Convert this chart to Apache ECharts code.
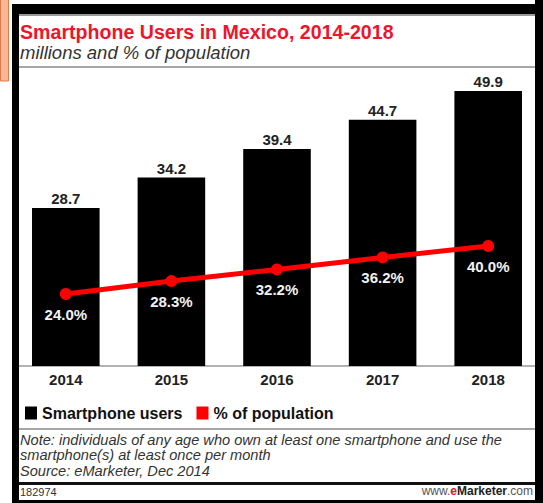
<!DOCTYPE html>
<html>
<head>
<meta charset="utf-8">
<script src="https://cdn.jsdelivr.net/npm/echarts@6/dist/echarts.min.js"></script>
<style>
html,body{margin:0;padding:0;background:#fff;}
#c{width:543px;height:503px;}
</style>
</head>
<body>
<div id="c"></div>
<script>
const years = ['2014', '2015', '2016', '2017', '2018'];
const users = [28.7, 34.2, 39.4, 44.7, 49.9];
const share = [24.0, 28.3, 32.2, 36.2, 40.0];
const titleText = 'Smartphone Users in Mexico, 2014-2018';
const subtitleText = 'millions and % of population';
const noteLines = [
  'Note: individuals of any age who own at least one smartphone and use the',
  'smartphone(s) at least once per month',
  'Source: eMarketer, Dec 2014'
];
const chartId = '182974';

const FONT = 'Liberation Sans, Arial, sans-serif';
const chart = echarts.init(document.getElementById('c'), null, {renderer: 'svg'});

const graphics = [
  {type: 'rect', shape: {x: 0.5, y: -1, width: 8, height: 82}, style: {fill: '#f8b898', stroke: '#e07a48', lineWidth: 1}, z: 100},
  {type: 'rect', shape: {x: 12, y: 4, width: 531, height: 10}, style: {fill: '#000'}, z: 100},
  {type: 'rect', shape: {x: 12, y: 4, width: 7, height: 499}, style: {fill: '#000'}, z: 100},
  {type: 'rect', shape: {x: 535, y: 0, width: 8, height: 503}, style: {fill: '#000'}, z: 100},
  {type: 'rect', shape: {x: 12, y: 500, width: 531, height: 3}, style: {fill: '#000'}, z: 100},
  {type: 'line', shape: {x1: 19, y1: 15, x2: 535, y2: 15}, style: {stroke: '#999', lineWidth: 2}, z: 100},
  {type: 'line', shape: {x1: 19, y1: 67, x2: 535, y2: 67}, style: {stroke: '#888', lineWidth: 1.5}, z: 100},
  {type: 'line', shape: {x1: 19, y1: 429, x2: 535, y2: 429}, style: {stroke: '#888', lineWidth: 1.5}, z: 100},
  {type: 'rect', shape: {x: 19, y: 482, width: 516, height: 3}, style: {fill: '#111'}, z: 100},
  {type: 'text', left: 20, top: 22, z: 100, style: {text: titleText, fill: '#f0142a', font: 'bold 19.6px ' + FONT}},
  {type: 'text', left: 20, top: 43, z: 100, style: {text: subtitleText, fill: '#333', font: 'italic 18.5px ' + FONT}},
  {type: 'text', left: 20, top: 432, z: 100, style: {text: noteLines.join('\n'), fill: '#333', font: 'italic 14.6px ' + FONT, lineHeight: 15.5}},
  {type: 'text', left: 20, top: 486, z: 100, style: {text: chartId, fill: '#333', font: '11px ' + FONT}},
  {type: 'text', right: 10, top: 485, z: 100, style: {
    text: '{g|www.}{r|e}{b|Marketer}{g|.com}',
    rich: {
      g: {fill: '#555', font: '12px ' + FONT},
      r: {fill: '#e8102a', font: 'bold 12px ' + FONT},
      b: {fill: '#222', font: 'bold 12px ' + FONT}
    }
  }}
];

chart.setOption({
  animation: false,
  backgroundColor: '#fff',
  grid: {left: 13, right: 2, top: 63, bottom: 137, containLabel: false},
  legend: {
    left: 20, top: 400, itemWidth: 12, itemHeight: 13, itemGap: 14,
    textStyle: {color: '#111', fontSize: 16, fontWeight: 'bold', fontFamily: FONT},
    data: [
      {name: 'Smartphone users', icon: 'rect', itemStyle: {color: '#000'}},
      {name: '% of population', icon: 'rect', itemStyle: {color: '#ff0000'}}
    ]
  },
  xAxis: {
    type: 'category', data: years,
    axisLine: {lineStyle: {color: '#999', width: 1.5}},
    axisTick: {show: false},
    axisLabel: {color: '#222', fontSize: 15, fontWeight: 'bold', fontFamily: FONT, margin: 6}
  },
  yAxis: [
    {type: 'value', min: 0, max: 55, show: false, splitLine: {show: false}},
    {type: 'value', min: 0, max: 101, show: false, splitLine: {show: false}}
  ],
  series: [
    {
      name: 'Smartphone users', type: 'bar', data: users, barWidth: '64%',
      itemStyle: {color: '#000'},
      label: {show: true, position: 'top', distance: 2, color: '#222', fontSize: 15, fontWeight: 'bold', fontFamily: FONT,
        formatter: p => p.value.toFixed(1)}
    },
    {
      name: '% of population', type: 'line', yAxisIndex: 1, data: share,
      lineStyle: {color: '#ff0000', width: 5},
      itemStyle: {color: '#ff0000'},
      symbol: 'circle', symbolSize: 12, z: 5,
      label: {show: true, position: 'bottom', distance: 7, color: '#f2f2f2', fontSize: 15, fontWeight: 'bold', fontFamily: FONT,
        formatter: p => p.value.toFixed(1) + '%'}
    }
  ],
  graphic: graphics
});
</script>
</body>
</html>
